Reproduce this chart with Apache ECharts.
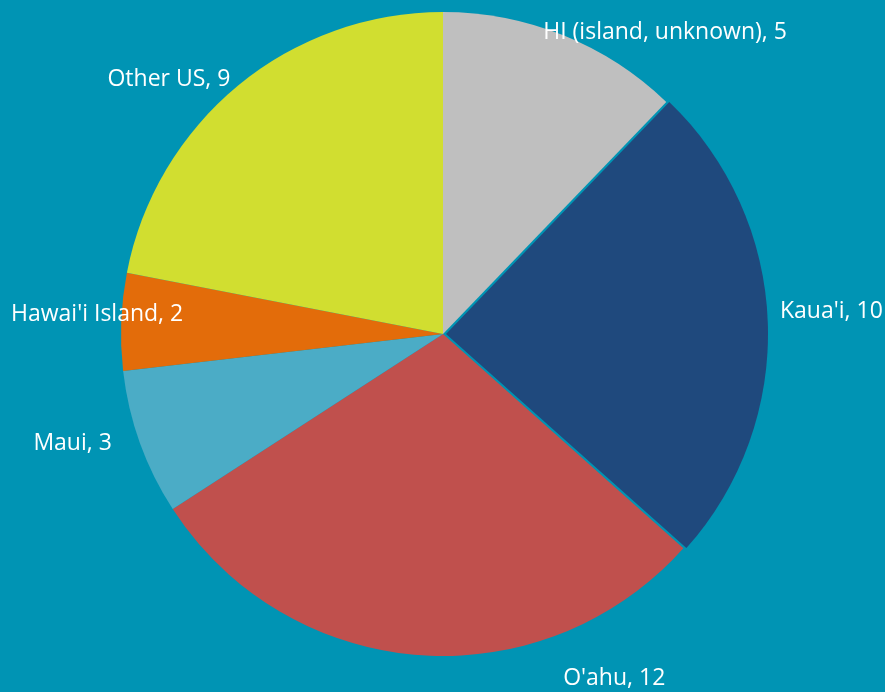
<!DOCTYPE html>
<html>
<head>
<meta charset="utf-8">
<script src="https://cdn.jsdelivr.net/npm/echarts@6/dist/echarts.min.js"></script>
<style>
  html, body { margin: 0; padding: 0; background: #0094B4; }
  #chart { width: 885px; height: 692px; }
</style>
</head>
<body>
<div id="chart"></div>
<script>
  // 各地区数量
  const categories = ['HI (island, unknown)', "Kaua'i", "O'ahu", 'Maui', "Hawai'i Island", 'Other US'];
  const values = [5, 10, 12, 3, 2, 9];
  const colors = ['#BFBFBF', '#1F497D', '#C0504D', '#4BACC6', '#E36C0A', '#D1DE30'];

  const pieCenter = [443, 334];
  const pieRadius = 322;
  // label placement: [angle in degrees (counter-clockwise from 3 o'clock), distance / radius]
  const labelPolar = [[53.6, 1.162], [3.4, 1.199], [-63.6, 1.196], [196.4, 1.199], [176.7, 1.076], [137.1, 1.162]];

  const chart = echarts.init(document.getElementById('chart'));

  const option = {
    backgroundColor: '#0094B4',
    animation: false,
    series: [
      {
        type: 'pie',
        center: pieCenter,
        radius: pieRadius,
        startAngle: 90,
        clockwise: true,
        selectedMode: 'single',
        selectedOffset: 3,
        label: {
          show: true,
          position: 'outside',
          formatter: '{b}, {c}',
          color: '#FFFFFF',
          fontSize: 23,
          fontFamily: 'Open Sans',
          overflow: 'none',
        },
        labelLine: { show: false, length: 10, length2: 0 },
        labelLayout: (params) => {
          const p = labelPolar[params.dataIndex];
          const a = (p[0] * Math.PI) / 180;
          const tx = pieCenter[0] + Math.cos(a) * p[1] * pieRadius;
          const ty = pieCenter[1] - Math.sin(a) * p[1] * pieRadius;
          const r = params.labelRect;
          return {
            dx: tx - (r.x + r.width / 2),
            dy: ty - (r.y + r.height / 2),
          };
        },
        itemStyle: { borderWidth: 0 },
        emphasis: { disabled: true },
        data: categories.map((name, i) => ({
          name,
          value: values[i],
          selected: i === 1,
          itemStyle: { color: colors[i] },
        })),
      },
    ],
  };
  chart.setOption(option);
</script>
</body>
</html>
